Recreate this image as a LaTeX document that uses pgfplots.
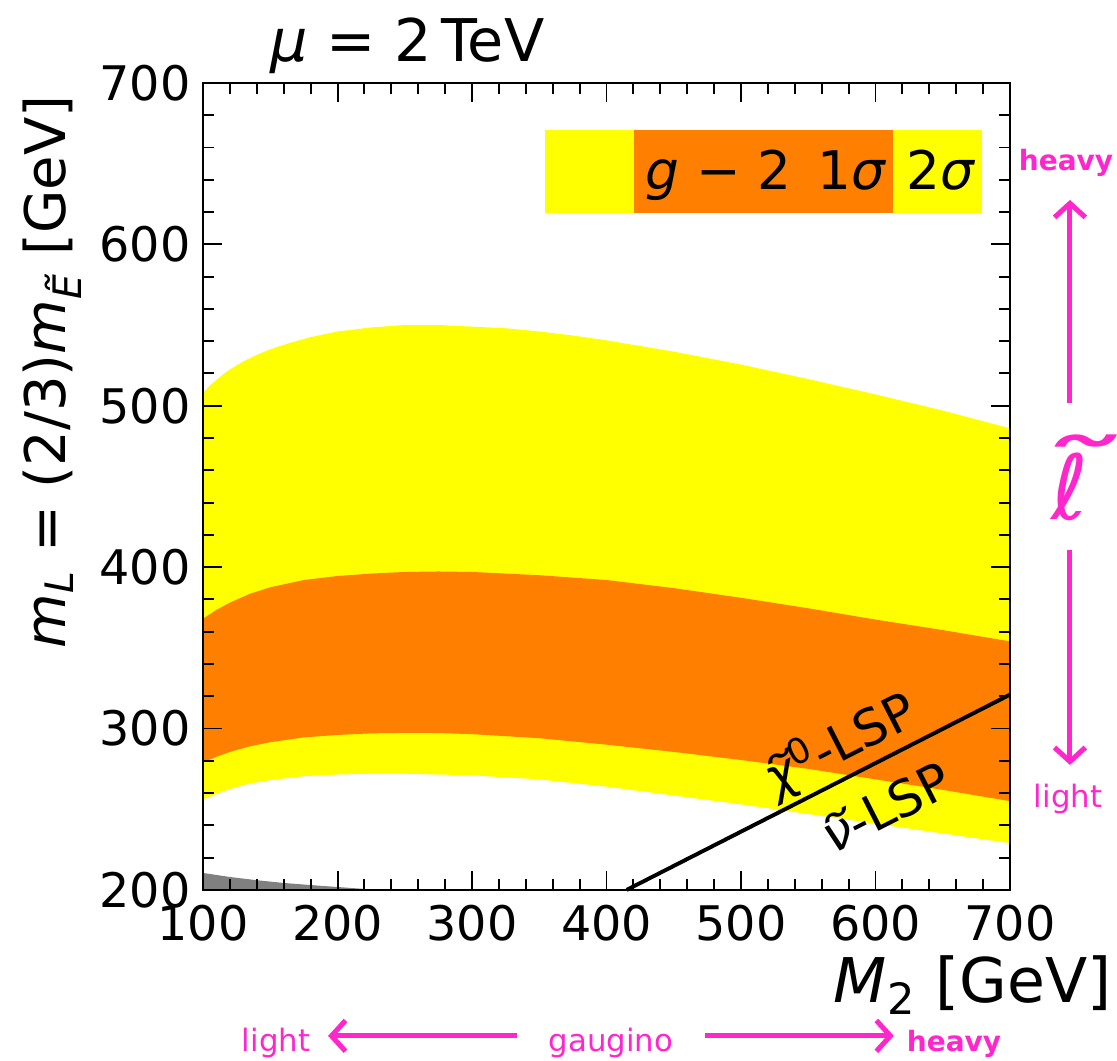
\documentclass[border=0pt]{standalone}
\usepackage{fontspec}
\setmainfont{DejaVu Sans}
\usepackage{graphicx}
\usepackage{pgfplots}
\pgfplotsset{compat=1.18}
\usetikzlibrary{arrows.meta}
\definecolor{gmyellow}{RGB}{255,255,0}
\definecolor{gmorange}{RGB}{255,128,0}
\definecolor{annpink}{RGB}{255,38,204}
% wide tilde over a letter
\newcommand\wt[2][1.5]{\setbox0\hbox{#2}\leavevmode\rlap{\hbox to \wd0{\hss\raisebox{\dimexpr\ht0-1.05ex\relax}{\scalebox{#1}[1]{\char"02DC}}\hss}}\box0}

\begin{document}
\begin{tikzpicture}
\begin{axis}[
  width=288pt, height=288pt, scale only axis,
  xmin=100, xmax=700, ymin=200, ymax=700,
  xtick={100,200,...,700}, ytick={200,300,...,700},
  minor tick num=4,
  tick pos=both, tick align=inside,
  major tick length=6.8pt, minor tick length=4pt,
  every tick/.style={black, line width=0.7pt},
  axis line style={line width=1pt},
  axis on top,
  clip=false,
  ticklabel style={font=\fontsize{17}{17}\selectfont},
  /pgf/number format/assume math mode=true,
  /pgf/number format/1000 sep={},
  xticklabel style={yshift=-2pt},
  yticklabel style={xshift=-1pt},
]
% 2 sigma band
\addplot[fill=gmyellow, draw=none] coordinates {
  (100,508)(105,512.5)(110,516)(115,519.5)(120,522.5)(130,527.5)(140,531.5)(150,535)
  (165,539)(180,542.5)(200,546)(225,548.5)(250,550)(275,550)(300,549)(325,548)
  (350,546)(375,543.5)(400,540.5)(450,533.5)(500,525.5)(550,516.5)(600,507)(650,497)(700,486)
  (700,229)(650,235)(600,241)(550,247)(500,253)(450,258.5)(400,264)(350,268.5)
  (300,271)(250,272)(225,272)(200,271.5)(175,270.5)(150,268)(135,266)(120,262.5)(110,259.5)(100,256)} -- cycle;
% 1 sigma band
\addplot[fill=gmorange, draw=none] coordinates {
  (100,368)(110,373.5)(120,378)(135,383.5)(150,387.5)(175,392)(200,394.5)(225,396)
  (250,397)(275,397.3)(300,397)(350,395)(400,392)(450,387)(500,381)(550,374.5)
  (600,367.5)(650,361)(700,354)
  (700,255)(650,262)(600,268.5)(550,275)(500,280.5)(450,285.5)(400,290)(350,294)
  (300,296.5)(275,297.2)(250,297.3)(225,297)(200,296)(175,294.5)(150,291.5)(135,289)
  (120,285.5)(110,282.5)(100,279)} -- cycle;
% excluded corner
\addplot[fill=gray, draw=none] coordinates {
  (100,200)(100,210.5)(120,208)(140,206)(160,204.3)(180,203)(200,201.8)(215,200.9)(230,200)} -- cycle;
% LSP boundary
\addplot[black, line width=1.4pt] coordinates {(415,200)(700,321)};

\node[rotate=27, font=\fontsize{18}{18}\selectfont] at (axis cs:574,290) {{\itshape\wt{χ}}\textsuperscript{0}-LSP};
\node[rotate=27, font=\fontsize{18}{18}\selectfont] at (axis cs:608,251) {{\itshape\wt{ν}}-LSP};

% legend box
\fill[gmyellow] (axis cs:354.3,619.5) rectangle (axis cs:679.2,670.9);
\fill[gmorange] (axis cs:420.4,619.5) rectangle (axis cs:613,670.9);
\node[anchor=base, font=\fontsize{19}{19}\selectfont] at (axis cs:518,633.7) {{\itshape g} − 2\,\ 1{\itshape σ}};
\node[anchor=base, font=\fontsize{19}{19}\selectfont] at (axis cs:648,633.7) {2{\itshape σ}};

% title and axis labels
\node[inner sep=0pt, anchor=base west, font=\fontsize{21}{21}\selectfont] at (rel axis cs:0.083,1.026) {{\itshape μ} = 2\,TeV};
\node[inner sep=0pt, anchor=base east, font=\fontsize{22}{22}\selectfont] at (rel axis cs:1.1264,-0.14) {{\itshape M}\textsubscript{2} [GeV]};
\node[inner sep=0pt, rotate=90, anchor=base east, font=\fontsize{20}{20}\selectfont] at (rel axis cs:-0.171,0.985)
  {{\itshape m}\textsubscript{\itshape L} = (2/3){\itshape m}\textsubscript{\itshape\wt[1.2]{E}} [GeV]};

% pink annotations, right
\node[anchor=base, text=annpink, font=\fontsize{10}{10}\selectfont\bfseries] at (rel axis cs:1.0694,0.892) {heavy};
\draw[annpink, line width=1.8pt, -{Straight Barb[length=5pt,width=11pt]}] (rel axis cs:1.0743,0.6035) -- (rel axis cs:1.0743,0.855);
\node[text=annpink, font=\fontsize{32}{32}\selectfont\itshape] at (rel axis cs:1.0743,0.5105) {\wt[2]{ℓ}};
\draw[annpink, line width=1.8pt, -{Straight Barb[length=5pt,width=11pt]}] (rel axis cs:1.0743,0.4213) -- (rel axis cs:1.0743,0.1549);
\node[anchor=base, text=annpink, font=\fontsize{11}{11}\selectfont] at (rel axis cs:1.0719,0.1016) {light};

% pink annotations, bottom
\node[anchor=base, text=annpink, font=\fontsize{11}{11}\selectfont] at (rel axis cs:0.0905,-0.2007) {light};
\draw[annpink, line width=1.8pt, -{Straight Barb[length=5pt,width=11pt]}] (rel axis cs:0.389,-0.1809) -- (rel axis cs:0.155,-0.1809);
\node[anchor=base, text=annpink, font=\fontsize{11}{11}\selectfont] at (rel axis cs:0.5056,-0.2007) {gaugino};
\draw[annpink, line width=1.8pt, -{Straight Barb[length=5pt,width=11pt]}] (rel axis cs:0.622,-0.1809) -- (rel axis cs:0.856,-0.1809);
\node[anchor=base, text=annpink, font=\fontsize{10}{10}\selectfont\bfseries] at (rel axis cs:0.9306,-0.2007) {heavy};

\coordinate (bl) at (rel axis cs:-0.2516,-0.2119);
\coordinate (tr) at (rel axis cs:1.1326,1.1028);
\end{axis}
\pgfresetboundingbox
\path[use as bounding box] (bl) rectangle (tr);
\end{tikzpicture}
\end{document}
